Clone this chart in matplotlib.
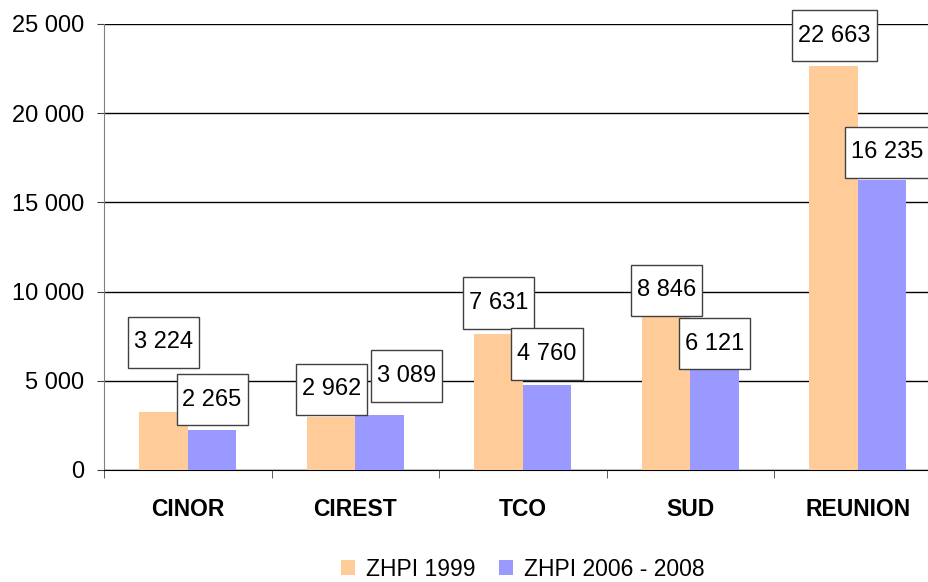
import numpy as np
import matplotlib
matplotlib.use('Agg')
import matplotlib.pyplot as plt
from matplotlib.path import Path
from matplotlib.ticker import FuncFormatter, FixedLocator

plt.rcParams['font.family'] = ['Liberation Sans', 'DejaVu Sans']

categories = ['CINOR', 'CIREST', 'TCO', 'SUD', 'REUNION']
zhpi_1999 = [3224, 2962, 7631, 8846, 22663]
zhpi_2006 = [2265, 3089, 4760, 6121, 16235]
series_names = ['ZHPI 1999', 'ZHPI 2006 - 2008']

# label box offsets (pixels, from bar top centre) - excel labels were nudged by hand
offs_1999 = [(0, 70), (1, 28), (0, 31), (1, 22), (1, 30)]
offs_2006 = [(0, 30), (27, 39), (0, 31), (0, 17), (5, 28)]

c_orange = '#FFCC99'
c_blue = '#9999FF'

fig = plt.figure(figsize=(9.29, 5.82), dpi=100)
ax = fig.add_axes([104/929, 112/582, 837.5/929, 446/582])

x = np.arange(len(categories))
w = 0.29
b1 = ax.bar(x - w/2, zhpi_1999, w, color=c_orange, label=series_names[0], zorder=3)
b2 = ax.bar(x + w/2, zhpi_2006, w, color=c_blue, label=series_names[1], zorder=3)

def fmt(v):
    return f'{int(v):,}'.replace(',', ' ')

# excel-like label box: tight on the sides, taller on top/bottom
def label_box(x0, y0, width, height, mutation_size):
    px = 0.25 * mutation_size
    py = 0.62 * mutation_size
    x0, y0 = x0 - px, y0 - py
    x1, y1 = x0 + width + 2*px, y0 + height + 2*py
    return Path([(x0, y0), (x1, y0), (x1, y1), (x0, y1), (x0, y0)], closed=True)

box = dict(boxstyle=label_box, fc='white', ec='#404040', lw=1)
for bars, vals, offs in [(b1, zhpi_1999, offs_1999), (b2, zhpi_2006, offs_2006)]:
    for r, v, (dx, dy) in zip(bars, vals, offs):
        ax.annotate(fmt(v), (r.get_x() + r.get_width()/2, v), xytext=(dx, dy),
                    textcoords='offset pixels', ha='center', va='center',
                    fontsize=17, bbox=box, zorder=5)

ax.set_xlim(-0.5, len(categories) - 0.5)
ax.set_ylim(0, 25000)
ax.set_yticks(np.arange(0, 25001, 5000))
ax.yaxis.set_major_formatter(FuncFormatter(lambda v, p: fmt(v)))
ax.grid(axis='y', color='black', lw=1, zorder=0)

ax.set_xticks(x)
ax.set_xticklabels(categories, fontsize=16.5, fontweight='bold')
ax.xaxis.set_minor_locator(FixedLocator(np.arange(-0.5, len(categories), 1.0)))
ax.tick_params(axis='x', which='major', length=0, pad=20)
ax.tick_params(axis='x', which='minor', length=6, color='#404040')
ax.tick_params(axis='y', length=5, labelsize=17, pad=9, color='#404040')

for s in ['top', 'right']:
    ax.spines[s].set_visible(False)
ax.spines['left'].set_color('#808080')
ax.spines['bottom'].set_color('black')

fig.legend(loc='center', bbox_to_anchor=(523/929, 13/582), ncol=2, frameon=False,
           fontsize=16.5, handlelength=0.6, handleheight=0.6, handletextpad=0.5,
           columnspacing=1.0, borderpad=0.1)

fig.savefig('out.png', dpi=100)
